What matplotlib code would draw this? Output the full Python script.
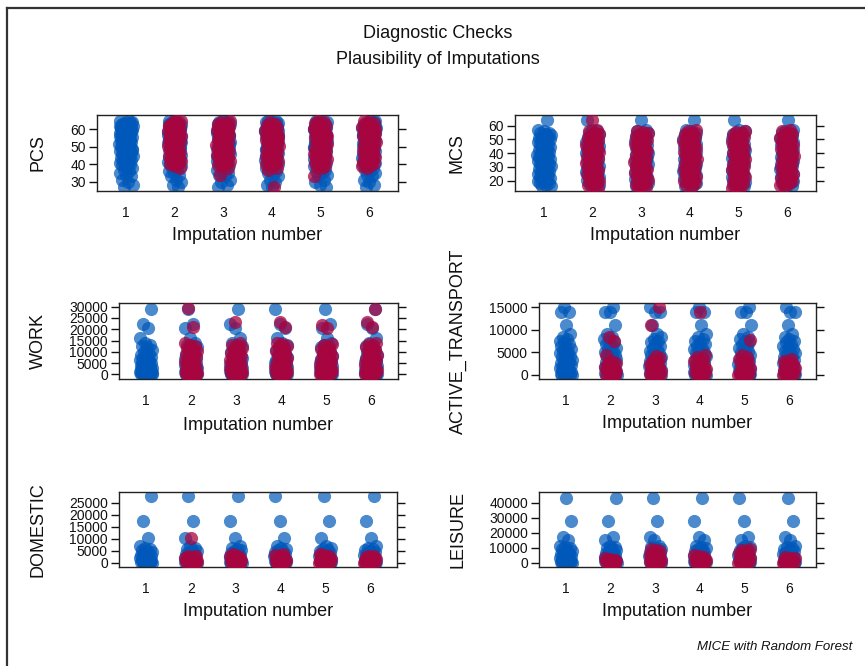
import matplotlib
matplotlib.use('Agg')
import matplotlib.pyplot as plt
from matplotlib.lines import Line2D

plt.rcParams['font.family'] = ['Liberation Sans', 'DejaVu Sans']

'''DATA'''
imputations = [1, 2, 3, 4, 5, 6]

pcs_obs = [27, 28, 30, 31, 33, 34, 35, 36, 37, 38, 39, 39.5, 40, 40.5, 41, 41.5, 42, 42.5,
           43, 43.5, 44, 44.5, 45, 45.5, 46, 46.5, 47, 47.5, 48, 48.5, 49, 49.5, 50, 50.5,
           51, 51.5, 52, 52.5, 53, 53.5, 54, 54.5, 55, 55.5, 56, 56.5, 57, 57.5, 58, 58.5,
           59, 59.5, 60, 60.5, 61, 61.5, 62, 62.5, 63, 63.5, 64, 64.5, 65, 45, 48, 50, 52,
           54, 55, 56, 57, 58, 59, 60, 61, 62, 63, 64, 53, 57, 59, 61, 62, 63]
pcs_imp = [[38, 39, 40, 40.5, 41, 42, 42.5, 43, 44, 44.5, 45, 46, 46.5, 47, 48, 48.5, 49, 50,
            50.5, 51, 52, 52.5, 53, 54, 54.5, 55, 56, 56.5, 57, 58, 58.5, 59, 60, 60.5, 61,
            62, 62.5, 63, 64, 64.5, 65, 55, 58, 60, 62],
           [34, 38, 39, 39.5, 40.5, 41, 42, 43, 43.5, 44, 45, 45.5, 46, 47, 47.5, 48, 49,
            49.5, 50, 51, 51.5, 52, 53, 53.5, 54, 55, 55.5, 56, 57, 57.5, 58, 59, 59.5, 60,
            61, 61.5, 62, 63, 63.5, 64, 65, 54, 57, 59, 61],
           [27, 37, 38, 39, 40, 40.5, 41, 42, 42.5, 43, 44, 44.5, 45, 46, 46.5, 47, 48, 48.5,
            49, 50, 50.5, 51, 52, 52.5, 53, 54, 54.5, 55, 56, 56.5, 57, 58, 58.5, 59, 60,
            60.5, 61, 62, 62.5, 63, 64, 55, 58, 60],
           [33, 38, 38.5, 39, 40, 41, 41.5, 42, 43, 43.5, 44, 45, 45.5, 46, 47, 47.5, 48, 49,
            49.5, 50, 51, 51.5, 52, 53, 53.5, 54, 55, 55.5, 56, 57, 57.5, 58, 59, 59.5, 60,
            61, 61.5, 62, 63, 63.5, 64, 65, 56, 59, 61],
           [38, 39, 39.5, 40, 41, 41.5, 42, 43, 43.5, 44, 45, 45.5, 46, 47, 47.5, 48, 49,
            49.5, 50, 51, 51.5, 52, 53, 53.5, 54, 55, 55.5, 56, 57, 57.5, 58, 59, 59.5, 60,
            61, 61.5, 62, 63, 63.5, 64, 65, 55, 58, 60, 62]]

mcs_obs = [16, 16.5, 17, 18, 18.5, 19, 20, 20.5, 21, 22, 22.5, 23, 24, 24.5, 25, 26, 26.5,
           27, 28, 28.5, 29, 30, 30.5, 31, 32, 32.5, 33, 34, 34.5, 35, 36, 36.5, 37, 38,
           38.5, 39, 40, 40.5, 41, 42, 42.5, 43, 44, 44.5, 45, 46, 46.5, 47, 48, 48.5, 49,
           50, 50.5, 51, 52, 52.5, 53, 54, 54.5, 55, 56, 57, 64]
mcs_imp = [[15, 16, 17, 18, 19, 20, 21, 22, 23, 24, 25, 26, 27, 28, 29, 30, 31, 32, 33, 34,
            35, 36, 37, 38, 39, 40, 41, 42, 43, 44, 45, 46, 47, 48, 49, 50, 51, 52, 53, 54,
            55, 56, 57, 64],
           [15, 15.5, 16.5, 17.5, 18.5, 19.5, 20.5, 21.5, 22.5, 23.5, 24.5, 25.5, 26.5, 27.5,
            28.5, 29.5, 30.5, 31.5, 32.5, 33.5, 34.5, 35.5, 36.5, 37.5, 38.5, 39.5, 40.5,
            41.5, 42.5, 43.5, 44.5, 45.5, 46.5, 47.5, 48.5, 49.5, 50.5, 51.5, 52.5, 53.5,
            54.5, 55.5, 56],
           [16, 17, 18, 19, 20, 21, 22, 23, 24, 25, 26, 27, 28, 29, 30, 31, 32, 33, 34, 35,
            36, 37, 38, 39, 40, 41, 42, 43, 44, 45, 46, 47, 48, 49, 50, 51, 52, 53, 54, 55,
            56, 57],
           [15, 15.5, 16.5, 17.5, 18.5, 19.5, 20.5, 21.5, 22.5, 23.5, 24.5, 25.5, 26.5, 27.5,
            28.5, 29.5, 30.5, 31.5, 32.5, 33.5, 34.5, 35.5, 36.5, 37.5, 38.5, 39.5, 40.5,
            41.5, 42.5, 43.5, 44.5, 45.5, 46.5, 47.5, 48.5, 49.5, 50.5, 51.5, 52.5, 53.5,
            54.5, 55.5, 56.5],
           [16, 17, 18, 19, 20, 21, 22, 23, 24, 25, 26, 27, 28, 29, 30, 31, 32, 33, 34, 35,
            36, 37, 38, 39, 40, 41, 42, 43, 44, 45, 46, 47, 48, 49, 50, 51, 52, 53, 54, 55,
            56, 57]]

work_obs = [0, 0, 0, 0, 50, 100, 200, 300, 400, 500, 600, 700, 800, 900, 1000, 1200, 1400,
            1600, 1800, 2000, 2200, 2400, 2600, 2800, 3000, 3300, 3600, 3900, 4200, 4500,
            4800, 5100, 5400, 5700, 6000, 6400, 6800, 7200, 7600, 8000, 8500, 9000, 10000,
            11000, 12000, 12500, 13000, 14000, 16000, 20500, 22500, 29000]
work_imp = [[0, 0, 100, 300, 500, 700, 900, 1200, 1500, 1800, 2100, 2500, 2900, 3300, 3700,
             4100, 4600, 5100, 5600, 6100, 6600, 7200, 7800, 8400, 9000, 9700, 10400, 11100,
             11800, 12500, 13200, 14000, 21000, 29500],
            [0, 0, 200, 400, 600, 800, 1100, 1400, 1700, 2000, 2400, 2800, 3200, 3600, 4000,
             4500, 5000, 5500, 6000, 6500, 7100, 7700, 8300, 8900, 9600, 10300, 11000, 11700,
             12400, 13100, 14000, 23000],
            [0, 0, 100, 300, 500, 800, 1100, 1400, 1700, 2000, 2400, 2800, 3200, 3600, 4100,
             4600, 5100, 5600, 6100, 6700, 7300, 7900, 8500, 9100, 9800, 10500, 11200, 11900,
             12600, 13300, 14000, 21000, 23000],
            [0, 0, 200, 400, 600, 900, 1200, 1500, 1800, 2200, 2600, 3000, 3400, 3800, 4300,
             4800, 5300, 5800, 6300, 6900, 7500, 8100, 8700, 9300, 10000, 10700, 11400, 12100,
             12800, 13500, 20500, 22000],
            [0, 0, 100, 300, 500, 700, 1000, 1300, 1600, 2000, 2400, 2800, 3200, 3700, 4200,
             4700, 5200, 5700, 6200, 6800, 7400, 8000, 8600, 9200, 9900, 10600, 11300, 12000,
             12700, 13400, 14000, 21000, 23000, 29000]]

act_obs = [0, 0, 0, 50, 100, 200, 300, 400, 500, 600, 800, 1000, 1200, 1400, 1600, 1800,
           2000, 2200, 2400, 2600, 2800, 3000, 3300, 3600, 3900, 4200, 4500, 4800, 5100,
           5400, 5700, 6000, 6400, 6800, 7200, 7600, 8000, 8500, 9000, 11000, 14000, 14000,
           15000]
act_imp = [[0, 0, 100, 200, 400, 600, 800, 1000, 1200, 1500, 1800, 2100, 2400, 2700, 3000,
            4500, 7500, 8500],
           [0, 0, 100, 300, 500, 700, 900, 1200, 1500, 1800, 2100, 2500, 2900, 3300, 3700,
            4200, 11000, 15000],
           [0, 0, 200, 400, 600, 800, 1000, 1300, 1600, 1900, 2300, 2700, 3100, 3500, 4000,
            4500, 14000],
           [0, 0, 100, 300, 500, 700, 1000, 1300, 1600, 2000, 2400, 2800, 3200, 3600, 4000,
            4500, 7800],
           [0, 0, 100, 200, 400, 600, 800, 1000, 1300, 1600, 1900, 2200, 2500, 2800, 3100,
            3500]]

dom_obs = [0, 0, 0, 50, 100, 200, 300, 400, 500, 700, 900, 1100, 1300, 1500, 1800, 2100,
           2400, 2700, 3000, 3300, 3600, 4000, 4400, 4800, 5200, 5600, 6000, 7000, 10500,
           17500, 28000]
dom_imp = [[0, 0, 100, 200, 400, 600, 800, 1000, 1300, 1600, 1900, 2300, 2700, 3000, 10500],
           [0, 0, 100, 300, 500, 700, 900, 1200, 1500, 1800, 2200, 2600, 3000, 3500],
           [0, 0, 200, 400, 600, 800, 1000, 1300, 1600, 2000, 2400, 2800, 3200, 3500],
           [0, 0, 100, 300, 500, 700, 1000, 1300, 1600, 1900, 2300, 2700, 3100, 3500],
           [0, 0, 100, 200, 400, 600, 800, 1100, 1400, 1700, 2000, 2400, 2700, 3000]]

lei_obs = [0, 0, 0, 100, 200, 400, 600, 800, 1000, 1300, 1600, 2000, 2400, 2800, 3200, 3700,
           4200, 4700, 5200, 5800, 6400, 7000, 7700, 8400, 9100, 9800, 10500, 11000, 15000,
           17000, 28000, 43000]
lei_imp = [[0, 0, 200, 400, 700, 1000, 1300, 1700, 2100, 2500, 3000],
           [0, 0, 300, 600, 1000, 1400, 1900, 2400, 3000, 3600, 4300, 5000, 5800, 6600, 7500,
            8300, 9000],
           [0, 0, 200, 500, 800, 1200, 1600, 2100, 2600, 3100, 3700, 4300, 5000],
           [0, 0, 300, 600, 1000, 1400, 1900, 2400, 3000, 3600, 4300, 5000, 5800, 6600, 7500,
            8300, 9000],
           [0, 0, 200, 400, 700, 1000, 1400, 1800, 2300, 2800, 3400, 4000]]

'''Plot'''
OBS_COLOR = '#0058BA'
IMP_COLOR = '#A8053F'
W, H = 865, 666


def jitter(n, col, amp=0.14):
    # deterministic spread around the category position
    return [((k * 0.618034 + col * 0.377) % 1 - 0.5) * 2 * amp for k in range(n)]


def panel(box, name, obs, imp, ylim, yticks, ylab_x, xlab_gap):
    x0, y0, x1, y1 = box
    ax = fig.add_axes([x0 / W, 1 - y1 / H, (x1 - x0) / W, (y1 - y0) / H])
    for col in imputations:
        off = jitter(len(obs), col)
        ax.scatter([col + o for o in off], obs, s=90, color=OBS_COLOR, alpha=0.7,
                   linewidths=0, zorder=2)
        if col > 1:
            vals = imp[col - 2]
            off = jitter(len(vals), col + 3)
            ax.scatter([col + o for o in off], vals, s=90, color=IMP_COLOR, alpha=0.75,
                       linewidths=0, zorder=3)
    ax.set_xlim(0.4, 6.6)
    ax.set_ylim(*ylim)
    ax.set_xticks(imputations)
    ax.set_yticks(yticks)
    ax.tick_params(axis='x', length=0, pad=11, labelsize=10, colors='#111111')
    ax.tick_params(axis='y', left=True, right=True, direction='out', length=6, width=1,
                   pad=2, labelsize=10, colors='#111111')
    for sp in ax.spines.values():
        sp.set_linewidth(1)
        sp.set_color('#222222')
    fig.text((x0 + x1) / 2 / W, 1 - (y1 + xlab_gap) / H, 'Imputation number',
             ha='center', va='center', fontsize=13, color='#111111')
    fig.text(ylab_x / W, 1 - (y0 + y1) / 2 / H, name, rotation=90,
             ha='center', va='center', fontsize=13, color='#111111')
    return ax


fig = plt.figure(figsize=(8.65, 6.66), dpi=100)

panel((97, 115, 398, 191), 'PCS', pcs_obs, pcs_imp, (24.7, 68.2), [30, 40, 50, 60], 38, 44)
panel((515, 115, 816, 191), 'MCS', mcs_obs, mcs_imp, (12.5, 67.8), [20, 30, 40, 50, 60], 457, 44)
panel((119, 303, 398, 379), 'WORK', work_obs, work_imp, (-2080, 31640),
      [0, 5000, 10000, 15000, 20000, 25000, 30000], 38, 46)
panel((539, 303, 816, 379), 'ACTIVE_TRANSPORT', act_obs, act_imp, (-890, 15950),
      [0, 5000, 10000, 15000], 458, 44)
panel((119, 492, 397, 567), 'DOMESTIC', dom_obs, dom_imp, (-1790, 29460),
      [0, 5000, 10000, 15000, 20000, 25000], 38, 45)
panel((539, 492, 816, 567), 'LEISURE', lei_obs, lei_imp, (-2870, 47130),
      [0, 10000, 20000, 30000, 40000], 458, 45)

fig.text(438 / W, 1 - 34 / H, 'Diagnostic Checks', ha='center', va='center',
         fontsize=13, color='#111111')
fig.text(438 / W, 1 - 59 / H, 'Plausibility of Imputations', ha='center', va='center',
         fontsize=13, color='#111111')
fig.text(852 / W, 1 - 647 / H, 'MICE with Random Forest', ha='right', va='center',
         fontsize=9.5, style='italic', color='#111111')

# outer frame (top and left edges only)
fig.add_artist(Line2D([7.5 / W, 1], [1 - 7.5 / H, 1 - 7.5 / H], color='#333333', lw=1.6))
fig.add_artist(Line2D([7.5 / W, 7.5 / W], [0, 1 - 7.5 / H], color='#333333', lw=1.6))

fig.savefig('out.png', dpi=100)
